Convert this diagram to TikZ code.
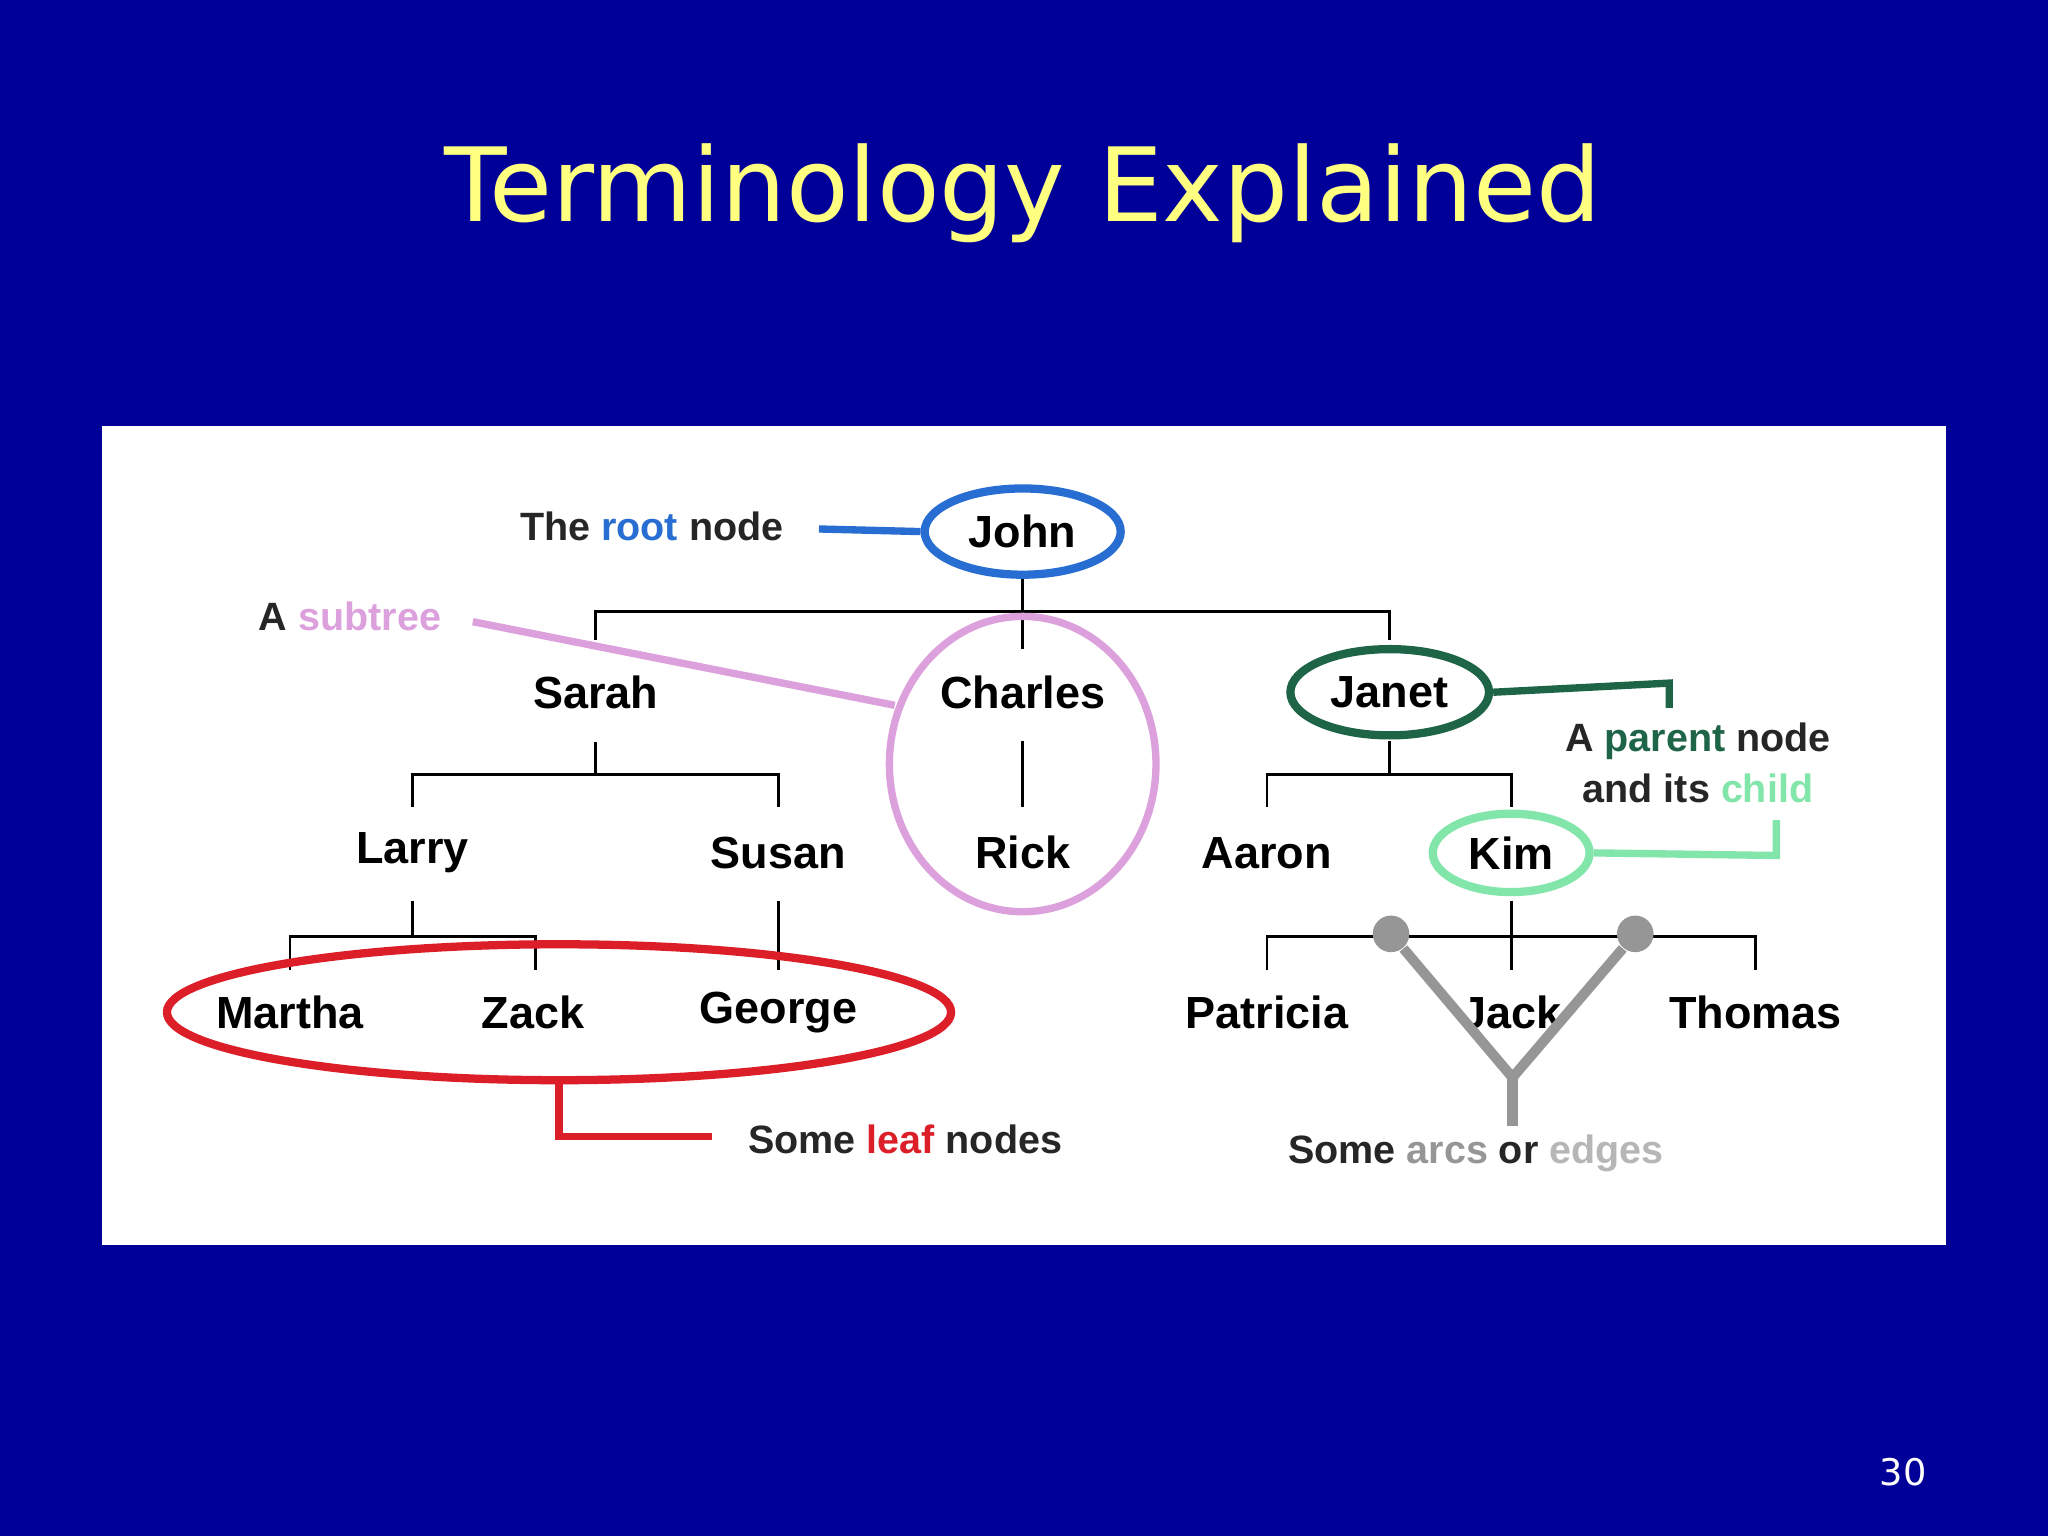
\documentclass[tikz,border=0pt]{standalone}
\usepackage{fontspec}
\setmainfont{Liberation Sans}
\newfontfamily\titlefont{DejaVu Sans}
\usetikzlibrary{shapes.geometric}
\definecolor{navy}{RGB}{0,0,153}
\definecolor{ttl}{RGB}{255,255,128}
\definecolor{rootc}{RGB}{40,110,210}
\definecolor{pinkc}{RGB}{220,160,220}
\definecolor{dgreen}{RGB}{30,100,70}
\definecolor{lgreen}{RGB}{130,230,170}
\definecolor{redc}{RGB}{220,30,40}
\definecolor{grayc}{RGB}{150,150,150}
\begin{document}
\begin{tikzpicture}[x=0.01cm,y=-0.01cm,
  tn/.style={font=\fontsize{9.8pt}{12pt}\selectfont\bfseries,inner sep=0pt},
  an/.style={font=\fontsize{8.6pt}{11pt}\selectfont\bfseries,inner sep=0pt,text=black!85},
  el/.style={ellipse,inner sep=0pt},
  tl/.style={line width=0.6pt},
  al/.style={line width=1.6pt}]
\useasboundingbox (0,0) rectangle (1568,1176);
\fill[navy] (0,0) rectangle (1568,1176);
\node[text=ttl,font=\titlefont\fontsize{22.3pt}{26pt}\selectfont] (title) at (783,148) {Terminology Explained};
\fill[white] (78,326) rectangle (1490,953);
\node[text=white,font=\titlefont\fontsize{8pt}{9pt}\selectfont] (pg) at (1457,1127) {30};
% tree nodes
\node[tn] (john) at (783,407) {John};
\node[tn] (sarah) at (456,530) {Sarah};
\node[tn] (charles) at (783,530) {Charles};
\node[tn] (janet) at (1064,530) {Janet};
\node[tn] (larry) at (316,653) {Larry};
\node[tn] (susan) at (596,653) {Susan};
\node[tn] (rick) at (783,653) {Rick};
\node[tn] (aaron) at (970,653) {Aaron};
\node[tn] (kim) at (1157,653) {Kim};
\node[tn] (martha) at (222,775) {Martha};
\node[tn] (zack) at (408,775) {Zack};
\node[tn] (george) at (596,775) {George};
\node[tn] (patricia) at (970,775) {Patricia};
\node[tn] (jack) at (1157,775) {Jack};
\node[tn] (thomas) at (1344,775) {Thomas};
% tree connectors
\draw[tl] (783,440) -- (783,468);
\draw[tl] (456,490) |- (1064,468) -- (1064,490);
\draw[tl] (783,468) -- (783,497);
\draw[tl] (456,568) -- (456,593);
\draw[tl] (316,618) |- (596,593) -- (596,618);
\draw[tl] (783,567) -- (783,618);
\draw[tl] (1064,567) -- (1064,593);
\draw[tl] (970,618) |- (1157,593) -- (1157,618);
\draw[tl] (316,690) -- (316,717);
\draw[tl] (222,743) |- (410,717) -- (410,743);
\draw[tl] (596,690) -- (596,743);
\draw[tl] (1157,690) -- (1157,717);
\draw[tl] (970,743) |- (1344,717) -- (1344,743);
\draw[tl] (1157,717) -- (1157,743);
% root
\node[el,draw=rootc,line width=1.8pt,minimum width=1.5cm,minimum height=0.66cm] (je) at (783,407) {};
\node[an] (rootl) at (499,403) {The \textcolor{rootc}{root} node};
\draw[al,rootc] (627,405) -- (je.west);
% subtree
\node[el,draw=pinkc,line width=1.6pt,minimum width=2.04cm,minimum height=2.26cm] (se) at (783,585) {};
\node[an] (subl) at (268,472) {A \textcolor{pinkc}{subtree}};
\draw[al,pinkc] (362,476) -- (685,540);
% parent
\node[el,draw=dgreen,line width=1.8pt,minimum width=1.52cm,minimum height=0.66cm] (jne) at (1064,530) {};
\draw[al,dgreen] (jne.east) -- (1278,523) -- (1278,542);
\node[an,align=center] (parl) at (1300,584) {A \textcolor{dgreen}{parent} node\\and its \textcolor{lgreen}{child}};
\node[el,draw=lgreen,line width=1.8pt,minimum width=1.2cm,minimum height=0.6cm] (ke) at (1157,653) {};
\draw[al,lgreen] (ke.east) -- (1360,655) -- (1360,628);
% leaves
\node[el,draw=redc,line width=1.8pt,minimum width=6cm,minimum height=1.04cm] (re) at (428,775) {};
\draw[al,redc] (re.south) -- (428,870) -- (545,870);
\node[an] (leafl) at (693,872) {Some \textcolor{redc}{leaf} nodes};
% edges
\node[circle,fill=grayc,minimum size=0.28cm,inner sep=0] (c1) at (1065,715) {};
\node[circle,fill=grayc,minimum size=0.28cm,inner sep=0] (c2) at (1252,715) {};
\coordinate (yj) at (1158,825);
\draw[grayc,line width=2.2pt] (c1) -- (yj) -- (c2);
\draw[grayc,line width=2.2pt] (yj) -- (1158,862);
\node[an] (edgel) at (1130,883) {Some \textcolor{grayc}{arcs} or \textcolor{grayc!70}{edges}};
\end{tikzpicture}
\end{document}
